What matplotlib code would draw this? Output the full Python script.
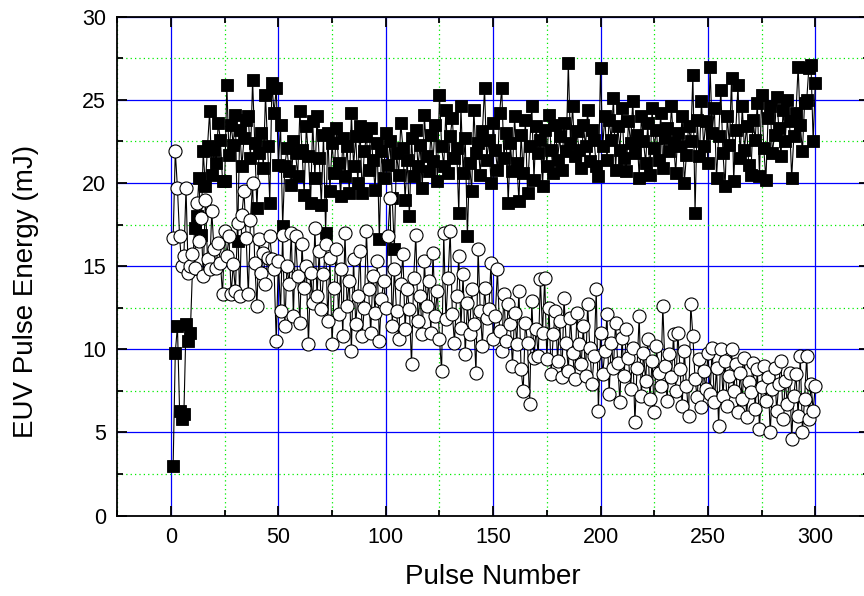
import numpy as np
import matplotlib
matplotlib.use("Agg")
import matplotlib.pyplot as plt
from matplotlib.ticker import MultipleLocator

plt.rcParams['font.family'] = ['Liberation Sans', 'DejaVu Sans']

# pulse energies (mJ), pulses 1..300
squares = [
    3.0, 9.8, 11.4, 6.3, 5.8, 6.1, 11.5, 10.5, 11.0, 14.8,
    17.3, 18.0, 20.3, 16.9, 21.9, 19.8, 22.2, 24.3, 20.5, 22.0,
    21.2, 23.6, 22.6, 20.1, 20.1, 25.9, 21.7, 23.5, 22.3, 24.1,
    16.5, 23.2, 21.0, 22.7, 23.8, 24.0, 21.5, 26.2, 22.4, 18.5,
    21.8, 23.0, 20.9, 25.3, 22.2, 18.8, 26.0, 24.2, 25.7, 21.1,
    23.5, 17.4, 21.0, 22.1, 20.7, 19.9, 22.5, 21.8, 20.4, 24.3,
    22.0, 19.3, 23.4, 21.6, 18.8, 23.7, 20.3, 24.0, 21.5, 18.7,
    22.9, 17.0, 23.0, 19.5, 22.4, 20.6, 23.3, 21.2, 19.2, 22.7,
    20.4, 22.2, 19.4, 24.2, 21.0, 22.8, 20.0, 23.4, 19.4, 21.9,
    22.8, 20.8, 23.3, 21.4, 19.6, 22.4, 16.6, 21.9, 20.3, 23.0,
    21.1, 22.5, 19.1, 16.0, 21.8, 20.5, 23.6, 22.1, 19.0, 21.4,
    18.0, 22.7, 20.4, 23.2, 21.0, 22.3, 19.7, 24.1, 21.6, 20.7,
    22.9, 21.3, 23.5, 20.1, 25.3, 22.2, 21.0, 24.4, 20.6, 22.8,
    23.9, 21.5, 22.1, 18.2, 24.6, 20.6, 22.7, 16.8, 21.2, 19.5,
    24.4, 21.8, 22.4, 20.5, 23.1, 25.7, 21.4, 22.6, 20.0, 23.6,
    22.0, 20.8, 24.2, 25.7, 21.5, 23.0, 18.8, 22.4, 20.7, 24.0,
    21.2, 18.9, 22.9, 20.6, 23.8, 19.4, 22.2, 24.6, 20.2, 23.4,
    21.8, 22.6, 19.8, 23.2, 21.0, 24.1, 22.0, 20.6, 23.5, 21.4,
    22.8, 20.8, 23.6, 21.9, 27.2, 22.4, 24.6, 21.6, 23.1, 22.0,
    20.9, 23.5, 22.2, 24.4, 21.3, 23.2, 22.6, 21.0, 20.4, 26.9,
    22.2, 24.0, 21.4, 23.8, 22.6, 25.1, 20.8, 23.4, 22.0, 24.5,
    21.5, 20.7, 23.7, 22.4, 24.9, 21.8, 22.9, 20.3, 24.0, 22.5,
    21.2, 23.6, 20.5, 24.5, 22.1, 23.2, 21.4, 24.2, 20.9, 22.7,
    23.3, 21.9, 24.6, 22.4, 20.6, 23.0, 22.2, 24.0, 20.0, 21.7,
    23.4, 22.5, 26.5, 18.2, 23.8, 21.6, 24.9, 22.2, 23.7, 21.2,
    27.0, 23.0, 24.5, 20.3, 22.8, 25.6, 21.8, 19.8, 24.0, 22.3,
    26.3, 20.1, 23.2, 25.9, 21.5, 24.6, 22.0, 23.4, 21.1, 20.5,
    23.8, 22.6, 24.8, 20.4, 25.3, 22.1, 20.2, 23.9, 24.6, 21.8,
    22.9, 25.2, 23.3, 21.6, 24.4, 22.5, 25.0, 23.7, 20.3, 22.8,
    24.2, 27.0, 23.5, 21.9, 24.8, 25.0, 26.9, 27.1, 22.5, 26.0,
]

circles = [
    16.7, 21.9, 19.7, 16.8, 15.0, 15.6, 19.7, 14.6, 15.0, 15.7,
    14.9, 18.8, 16.5, 17.9, 14.4, 19.0, 15.4, 14.8, 18.3, 16.0,
    14.9, 16.4, 15.2, 13.3, 17.1, 15.6, 16.8, 13.3, 15.1, 13.5,
    17.6, 13.2, 18.1, 19.5, 16.7, 13.3, 17.8, 20.0, 15.2, 12.6,
    16.6, 14.6, 15.8, 13.9, 15.5, 16.8, 15.4, 14.8, 10.5, 15.3,
    12.3, 16.9, 11.4, 15.0, 13.9, 17.0, 12.0, 16.8, 14.4, 11.6,
    16.3, 13.7, 15.0, 10.3, 14.6, 12.8, 17.3, 13.2, 15.9, 12.4,
    14.5, 16.3, 11.7, 15.5, 10.3, 13.7, 16.0, 12.1, 14.8, 10.8,
    17.0, 12.6, 14.1, 9.9, 15.4, 11.5, 13.2, 15.9, 10.8, 12.5,
    17.1, 13.6, 11.0, 14.4, 12.2, 15.3, 10.5, 13.0, 14.1, 12.5,
    16.8, 19.1, 11.4, 14.8, 12.3, 10.6, 13.9, 15.7, 11.2, 13.6,
    12.4, 9.1, 14.3, 16.9, 11.7, 13.2, 10.9, 15.3, 12.6, 14.1,
    11.0, 15.8, 12.0, 13.5, 10.6, 8.7, 17.0, 11.8, 14.3, 17.1,
    12.1, 10.4, 13.2, 15.6, 11.3, 14.5, 9.7, 12.8, 10.9, 13.6,
    11.5, 8.6, 16.0, 12.3, 10.2, 13.7, 11.9, 12.4, 15.2, 10.6,
    12.0, 14.8, 11.1, 9.9, 13.3, 10.5, 12.7, 11.5, 9.0, 12.2,
    10.3, 13.5, 8.8, 7.5, 11.6, 10.4, 6.7, 12.9, 9.5, 11.2,
    9.6, 14.2, 11.0, 14.3, 9.4, 12.5, 8.5, 10.9, 12.3, 9.3,
    11.7, 8.3, 13.1, 10.4, 8.7, 11.9, 9.8, 8.2, 12.2, 10.3,
    9.1, 11.4, 8.4, 12.7, 10.1, 7.9, 9.6, 13.6, 6.3, 11.0,
    8.5, 9.9, 12.1, 7.3, 10.4, 8.9, 11.6, 9.2, 6.8, 10.7,
    8.4, 11.2, 9.5, 7.6, 10.1, 5.6, 8.9, 12.0, 7.2, 9.8,
    8.1, 10.6, 7.0, 9.3, 6.2, 10.2, 8.6, 7.8, 12.6, 9.0,
    6.9, 9.7, 8.3, 10.9, 7.5, 11.0, 8.8, 6.6, 9.9, 7.8,
    6.0, 12.7, 10.8, 8.2, 7.1, 9.4, 6.5, 8.7, 7.6, 9.8,
    7.3, 10.1, 6.8, 8.9, 5.4, 10.0, 7.2, 9.3, 6.6, 8.4,
    10.0, 7.5, 9.1, 6.2, 8.6, 7.0, 9.5, 5.9, 8.0, 7.4,
    9.2, 6.4, 8.8, 5.2, 7.7, 9.0, 6.9, 8.3, 5.0, 7.6,
    8.9, 6.3, 7.9, 9.3, 5.8, 8.1, 6.7, 8.6, 4.6, 7.2,
    8.5, 6.0, 9.6, 5.0, 7.0, 9.6, 5.8, 7.9, 6.3, 7.8,
]

pulse = np.arange(1, len(squares) + 1)

fig = plt.figure(figsize=(8.64, 5.96), dpi=100)
# axes run a little past the right edge of the figure, as in the original
ax = fig.add_axes([117.3 / 864, 80.5 / 596, (869 - 117.3) / 864, (515.5 - 16.7) / 596])

ax.xaxis.set_major_locator(MultipleLocator(50))
ax.xaxis.set_minor_locator(MultipleLocator(25))
ax.yaxis.set_major_locator(MultipleLocator(5))
ax.yaxis.set_minor_locator(MultipleLocator(2.5))

ax.grid(True, which='major', color='#0000ff', lw=0.9, ls='-', zorder=0)
ax.grid(True, which='minor', color='#00ee00', lw=0.9, ls=(0, (1, 2.5)), zorder=0)
ax.set_axisbelow(True)

ax.plot(pulse, squares, color='black', lw=0.8, marker='s', ms=9.2,
        mfc='black', mec='black', mew=0.6, zorder=3)
ax.plot(pulse, circles, color='black', lw=0.8, marker='o', ms=9.4,
        mfc='white', mec='black', mew=0.8, zorder=4)

ax.set_xlim(-25, 325)
ax.set_ylim(0, 30)

for sp in ax.spines.values():
    sp.set_linewidth(1.3)
ax.tick_params(which='both', direction='in', top=True, right=True,
               labelsize=15.5, pad=8, width=1.3)
ax.tick_params(which='major', length=7.5)
ax.tick_params(which='minor', length=4.5)

ax.set_xlabel('Pulse Number', fontsize=20)
ax.set_ylabel('EUV Pulse Energy (mJ)', fontsize=20)
ax.xaxis.label.set_va('center')
ax.yaxis.label.set_va('center')
ax.xaxis.set_label_coords(0.5, -0.124)
ax.yaxis.set_label_coords(-0.122, 0.45)

fig.savefig('out.png', dpi=100)
